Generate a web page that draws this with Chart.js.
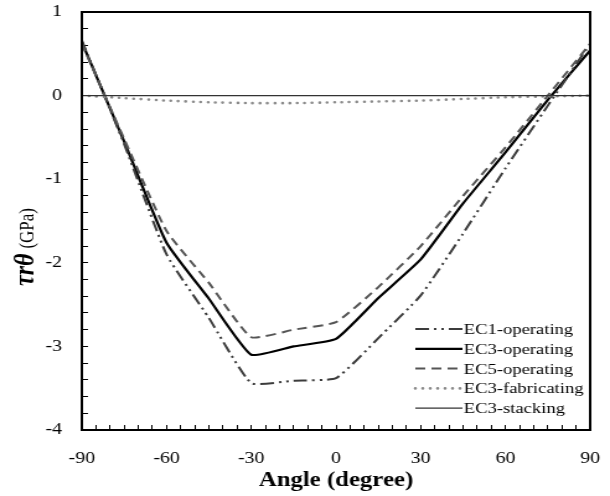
<!DOCTYPE html>
<html><head><meta charset="utf-8">
<script src="https://cdn.jsdelivr.net/npm/chart.js@4/dist/chart.umd.min.js"></script>
<style>
html,body{margin:0;padding:0;background:#fff;overflow:hidden;width:610px;height:496px}
#wrap{position:absolute;left:0;top:0;width:492px;height:496px;transform:scaleX(1.2398);transform-origin:0 0}
</style></head><body><div id="wrap"><canvas id="c"></canvas></div>
<script>
const angles = [-90,-75,-60,-45,-30,-15,0,15,30,45,60,75,90];
const ec1Operating   = [0.66,-0.58,-1.90,-2.66,-3.44,-3.41,-3.38,-2.90,-2.39,-1.65,-0.87,-0.12,0.62];
const ec3Operating   = [0.64,-0.55,-1.76,-2.43,-3.10,-3.00,-2.91,-2.42,-1.96,-1.29,-0.68,-0.05,0.54];
const ec5Operating   = [0.62,-0.52,-1.62,-2.24,-2.89,-2.80,-2.71,-2.29,-1.80,-1.20,-0.62,0.00,0.62];
const ec3Fabricating = [0.00,-0.03,-0.06,-0.08,-0.09,-0.09,-0.08,-0.07,-0.06,-0.04,-0.02,-0.01,0.00];
const ec3Stacking    = [0,0,0,0,0,0,0,0,0,0,0,0,0];
const seriesNames = ['EC1-operating','EC3-operating','EC5-operating','EC3-fabricating','EC3-stacking'];
const xTickLabels = [-90,-60,-30,0,30,60,90];
const yTickLabels = [1,0,-1,-2,-3,-4];
const xTitle = 'Angle (degree)';
const yTitleSymbol = 'τrθ';
const yTitleUnit = '(GPa)';

const styles = [
  {borderColor:'#3c3c3c', borderWidth:2, borderDash:[11,4,2,4,2,4], borderCapStyle:'butt'},
  {borderColor:'#000000', borderWidth:2.2, borderDash:[], borderCapStyle:'butt'},
  {borderColor:'#555555', borderWidth:2, borderDash:[8,5], borderCapStyle:'butt'},
  {borderColor:'#8a8a8a', borderWidth:2.6, borderDash:[0,6], borderCapStyle:'round'},
  {borderColor:'#333333', borderWidth:1.2, borderDash:[], borderCapStyle:'butt'}
];
const values = [ec1Operating, ec3Operating, ec5Operating, ec3Fabricating, ec3Stacking];
const datasets = values.map((v,i)=>Object.assign({
  label: seriesNames[i],
  data: angles.map((a,j)=>({x:a, y:v[j]})),
  pointRadius:0, tension: i===4?0:0.15, fill:false
}, styles[i]));

const drawOrder = [4,3,2,0,1];
const orderedDatasets = drawOrder.map(i=>datasets[i]);

const decor = {
  id:'decor',
  afterDraw(chart){
    const ctx = chart.ctx, ca = chart.chartArea;
    ctx.save();
    ctx.strokeStyle = '#000'; ctx.lineWidth = 2; ctx.setLineDash([]);
    ctx.strokeRect(ca.left, ca.top, ca.right-ca.left, ca.bottom-ca.top);
    // legend
    const lx0 = 335, lx1 = 373, ty0 = 329, step = 19.8;
    ctx.font = '15px "Liberation Serif", "Times New Roman", serif';
    ctx.textBaseline = 'middle'; ctx.textAlign = 'left'; ctx.fillStyle = '#000';
    seriesNames.forEach((name, k)=>{
      const ds = chart.data.datasets.find(d=>d.label===name);
      const y = ty0 + k*step;
      ctx.beginPath();
      ctx.strokeStyle = ds.borderColor; ctx.lineWidth = ds.borderWidth;
      ctx.lineCap = ds.borderCapStyle; ctx.setLineDash(ds.borderDash);
      ctx.moveTo(lx0, y); ctx.lineTo(lx1, y); ctx.stroke();
      ctx.setLineDash([]);
      ctx.fillText(name, lx1 + 1, y + 1);
    });
    // y title
    ctx.translate(21, 247);
    ctx.rotate(-Math.PI/2);
    const f1 = 'bold italic 24px "Liberation Serif", "Times New Roman", serif';
    const f2 = '17px "Liberation Serif", "Times New Roman", serif';
    ctx.font = f1; const w1 = ctx.measureText(yTitleSymbol).width;
    ctx.font = f2; const w2 = ctx.measureText(yTitleUnit).width;
    const gap = 5, tot = w1+gap+w2;
    ctx.textBaseline = 'alphabetic';
    ctx.font = f1; ctx.fillText(yTitleSymbol, -tot/2, 6);
    ctx.font = f2; ctx.fillText(yTitleUnit, -tot/2 + w1 + gap, 6);
    ctx.restore();
  }
};

const tickFont = {family:'"Liberation Serif", "Times New Roman", serif', size:16};
new Chart(document.getElementById('c'), {
  type:'line',
  data:{datasets: orderedDatasets},
  options:{
    responsive:true, maintainAspectRatio:false, animation:false,
    layout:{padding:{top:12, right:16, left:0, bottom:0}},
    plugins:{legend:{display:false}, tooltip:{enabled:false}},
    scales:{
      x:{type:'linear', min:-90, max:90,
        afterFit(s){ s.height = 66; s.paddingLeft = 0; s.paddingRight = 0; },
        ticks:{stepSize:5, autoSkip:false, maxRotation:0, color:'#000', font:tickFont, padding:24,
          callback:(v)=> xTickLabels.includes(Math.round(v)) && Math.abs(v-Math.round(v))<1e-6 ? String(Math.round(v)) : ''},
        grid:{drawOnChartArea:false, drawTicks:true, tickLength:-5, color:'#000', lineWidth:1},
        border:{display:true, color:'#000', width:2},
        title:{display:true, text:xTitle, color:'#000', padding:{top:0,bottom:3},
          font:{family:'"Liberation Serif", "Times New Roman", serif', size:20, weight:'bold'}}
      },
      y:{type:'linear', min:-4, max:1,
        afterFit(s){ s.width = 66; s.paddingTop = 0; s.paddingBottom = 0; },
        ticks:{stepSize:0.2, autoSkip:false, color:'#000', font:tickFont, padding:21,
          callback:(v)=>{ const r=Math.round(v); return (Math.abs(v-r)<1e-6 && yTickLabels.includes(r)) ? String(r===0?0:r) : ''; }},
        grid:{drawOnChartArea:false, drawTicks:true, tickLength:-5, color:'#000', lineWidth:1},
        border:{display:true, color:'#000', width:2}
      }
    }
  },
  plugins:[decor]
});
</script></body></html>
